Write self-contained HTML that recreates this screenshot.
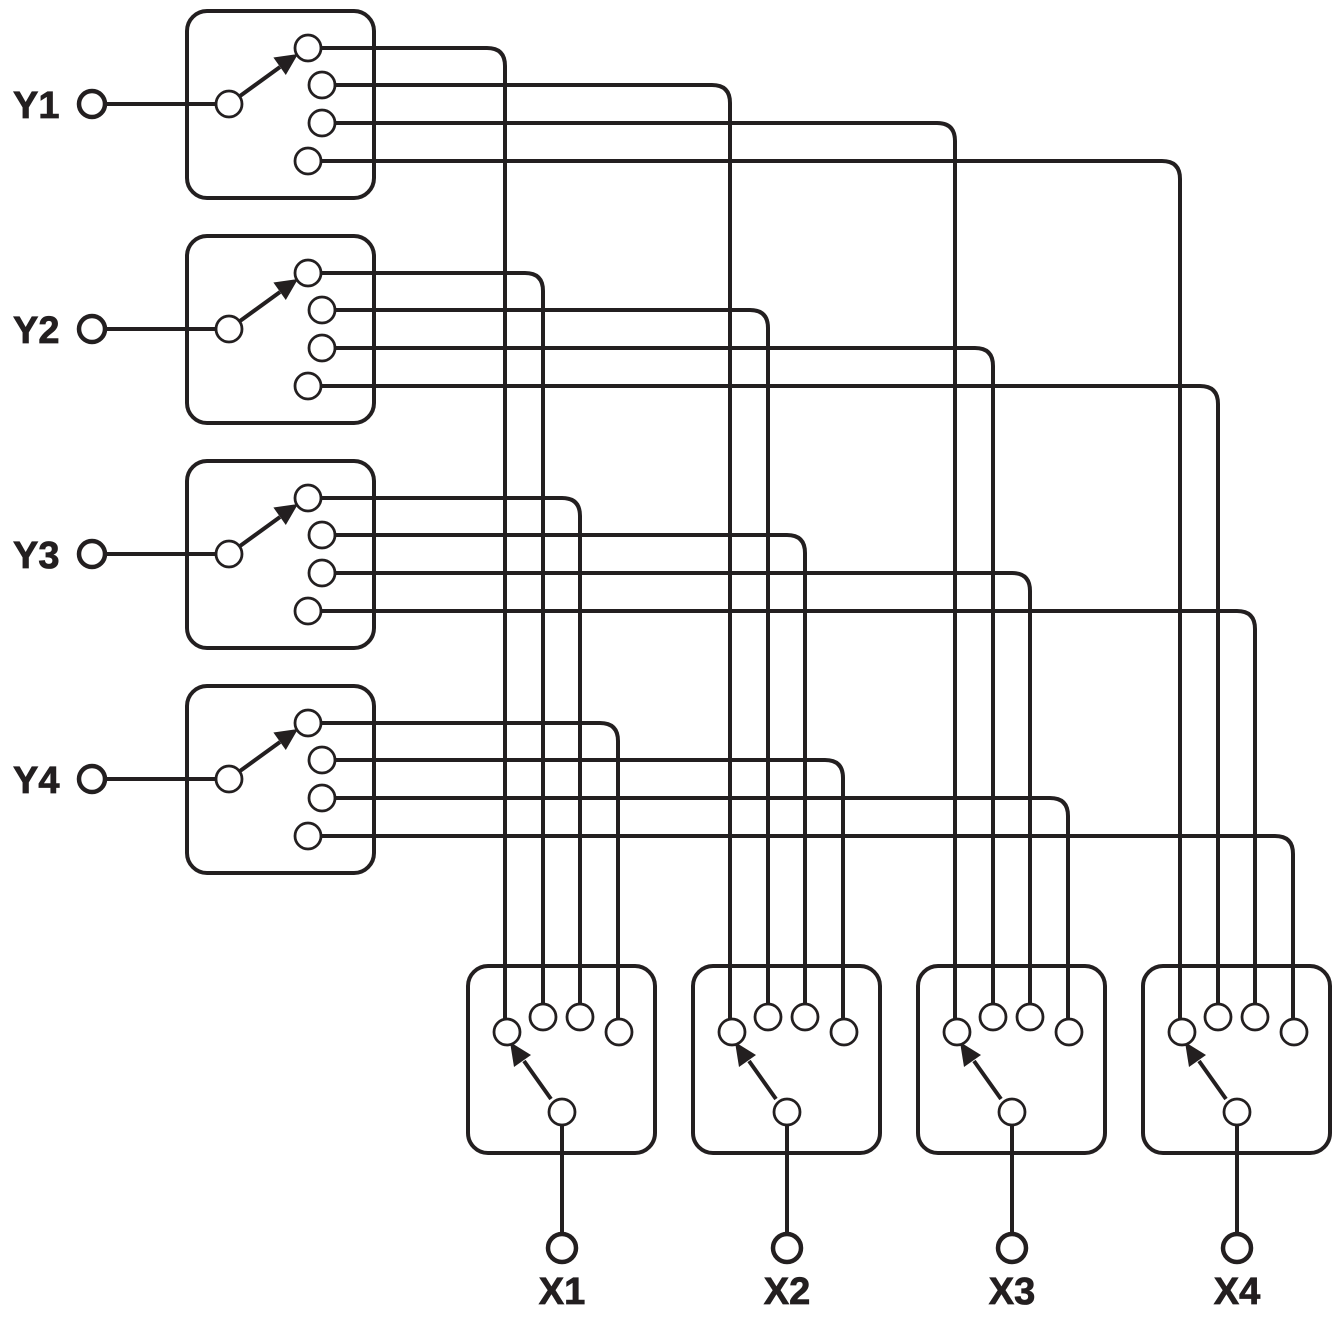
<!DOCTYPE html>
<html><head><meta charset="utf-8"><style>html,body{margin:0;padding:0;background:#fff}svg{display:block}</style></head>
<body>
<svg width="1341" height="1321" viewBox="0 0 1341 1321" xmlns="http://www.w3.org/2000/svg">
<defs>
<g id="yb">
<rect x="187" y="11" width="187" height="187" rx="20" fill="none" stroke="#231f20" stroke-width="4"/>
<line x1="105" y1="104" x2="217" y2="104" stroke="#231f20" stroke-width="4"/>
<circle cx="92" cy="104" r="13" fill="#fff" stroke="#231f20" stroke-width="4.5"/>
<line x1="240" y1="96" x2="280" y2="67" stroke="#231f20" stroke-width="4"/>
<polygon points="298,54 285.8,75 273.4,57.5" fill="#231f20"/>
<circle cx="229" cy="104" r="13" fill="#fff" stroke="#231f20" stroke-width="2.8"/>
<circle cx="308" cy="48" r="13" fill="#fff" stroke="#231f20" stroke-width="2.8"/>
<circle cx="322" cy="85" r="13" fill="#fff" stroke="#231f20" stroke-width="2.8"/>
<circle cx="322" cy="123" r="13" fill="#fff" stroke="#231f20" stroke-width="2.8"/>
<circle cx="308" cy="161" r="13" fill="#fff" stroke="#231f20" stroke-width="2.8"/>
</g>
<g id="xb">
<rect x="468" y="966" width="187" height="187" rx="20" fill="none" stroke="#231f20" stroke-width="4"/>
<line x1="562" y1="1125" x2="562" y2="1234" stroke="#231f20" stroke-width="4"/>
<circle cx="562" cy="1248" r="14" fill="#fff" stroke="#231f20" stroke-width="4.5"/>
<line x1="551" y1="1099" x2="524" y2="1061" stroke="#231f20" stroke-width="4"/>
<polygon points="510,1042 531,1055 514,1067" fill="#231f20"/>
<circle cx="562" cy="1112" r="13" fill="#fff" stroke="#231f20" stroke-width="2.8"/>
</g>
</defs>
<use href="#yb"/>
<use href="#yb" y="225"/>
<use href="#yb" y="450"/>
<use href="#yb" y="675"/>
<use href="#xb"/>
<use href="#xb" x="225"/>
<use href="#xb" x="450"/>
<use href="#xb" x="675"/>
<g fill="none" stroke="#231f20" stroke-width="4">
<path d="M321 48 H487 Q505 48 505 66 V1019"/>
<path d="M335 85 H712 Q730 85 730 103 V1019"/>
<path d="M335 123 H937 Q955 123 955 141 V1019"/>
<path d="M321 161 H1162 Q1180 161 1180 179 V1019"/>
<path d="M321 273 H525 Q543 273 543 291 V1004"/>
<path d="M335 310 H750 Q768 310 768 328 V1004"/>
<path d="M335 348 H975 Q993 348 993 366 V1004"/>
<path d="M321 386 H1200 Q1218 386 1218 404 V1004"/>
<path d="M321 498 H562 Q580 498 580 516 V1004"/>
<path d="M335 535 H787 Q805 535 805 553 V1004"/>
<path d="M335 573 H1012 Q1030 573 1030 591 V1004"/>
<path d="M321 611 H1237 Q1255 611 1255 629 V1004"/>
<path d="M321 723 H600 Q618 723 618 741 V1019"/>
<path d="M335 760 H825 Q843 760 843 778 V1019"/>
<path d="M335 798 H1050 Q1068 798 1068 816 V1019"/>
<path d="M321 836 H1275 Q1293 836 1293 854 V1019"/>
</g>
<g fill="#fff" stroke="#231f20" stroke-width="2.8">
<circle cx="507" cy="1032" r="13"/><circle cx="543" cy="1017" r="13"/><circle cx="580" cy="1017" r="13"/><circle cx="619" cy="1032" r="13"/>
<circle cx="732" cy="1032" r="13"/><circle cx="768" cy="1017" r="13"/><circle cx="805" cy="1017" r="13"/><circle cx="844" cy="1032" r="13"/>
<circle cx="957" cy="1032" r="13"/><circle cx="993" cy="1017" r="13"/><circle cx="1030" cy="1017" r="13"/><circle cx="1069" cy="1032" r="13"/>
<circle cx="1182" cy="1032" r="13"/><circle cx="1218" cy="1017" r="13"/><circle cx="1255" cy="1017" r="13"/><circle cx="1294" cy="1032" r="13"/>
</g>
<g font-family="Liberation Sans, sans-serif" font-weight="bold" font-size="38" fill="#231f20" stroke="#231f20" stroke-width="0.8">
<text x="13" y="118">Y1</text>
<text x="13" y="343">Y2</text>
<text x="13" y="568">Y3</text>
<text x="13" y="793">Y4</text>
<g text-anchor="middle">
<text x="562" y="1304">X1</text>
<text x="787" y="1304">X2</text>
<text x="1012" y="1304">X3</text>
<text x="1237" y="1304">X4</text>
</g>
</g>
</svg>
</body></html>
